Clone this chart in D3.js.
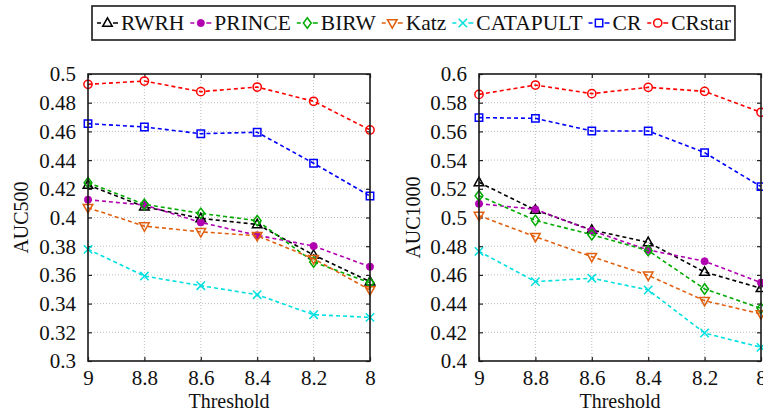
<!DOCTYPE html>
<html>
<head>
<meta charset="utf-8">
<script src="https://cdn.jsdelivr.net/npm/d3@7"></script>
<style>
  html, body { margin: 0; padding: 0; background: #fff; }
  svg { display: block; }
  text { font-family: "Liberation Serif", "DejaVu Serif", serif; fill: #111; }
</style>
</head>
<body>
<svg id="chart" width="763" height="415"></svg>
<script>
// Thresholds on the x axis (decreasing left to right)
const thresholds = [9, 8.8, 8.6, 8.4, 8.2, 8];
const xTickLabels = ["9", "8.8", "8.6", "8.4", "8.2", "8"];

// Method names, in legend order
const methods = ["RWRH", "PRINCE", "BIRW", "Katz", "CATAPULT", "CR", "CRstar"];
const colors = ["#000000", "#b000b0", "#00aa00", "#e0600f", "#00e0e0", "#0000ff", "#ff0000"];
const markers = ["triUp", "dot", "diamond", "triDown", "cross", "square", "circle"];

// AUC500 per method
const auc500RWRH     = [0.4226, 0.4075, 0.3994, 0.3952, 0.3739, 0.3553];
const auc500PRINCE   = [0.4124, 0.4087, 0.3966, 0.3876, 0.3801, 0.3657];
const auc500BIRW     = [0.4243, 0.4092, 0.4029, 0.3978, 0.3690, 0.3545];
const auc500Katz     = [0.4068, 0.3940, 0.3900, 0.3873, 0.3713, 0.3495];
const auc500CATAPULT = [0.3778, 0.3592, 0.3525, 0.3462, 0.3323, 0.3304];
const auc500CR       = [0.4654, 0.4631, 0.4584, 0.4594, 0.4378, 0.4150];
const auc500CRstar   = [0.4928, 0.4951, 0.4877, 0.4909, 0.4810, 0.4610];

// AUC1000 per method
const auc1000RWRH     = [0.5245, 0.5052, 0.4913, 0.4827, 0.4620, 0.4507];
const auc1000PRINCE   = [0.5096, 0.5057, 0.4908, 0.4774, 0.4695, 0.4546];
const auc1000BIRW     = [0.5152, 0.4980, 0.4880, 0.4769, 0.4502, 0.4367];
const auc1000Katz     = [0.5013, 0.4866, 0.4727, 0.4597, 0.4420, 0.4328];
const auc1000CATAPULT = [0.4764, 0.4553, 0.4577, 0.4495, 0.4195, 0.4095];
const auc1000CR       = [0.5696, 0.5691, 0.5603, 0.5603, 0.5452, 0.5215];
const auc1000CRstar   = [0.5858, 0.5923, 0.5863, 0.5907, 0.5879, 0.5733];

// Y axis ticks and labels
const yTicks500 = [0.3, 0.32, 0.34, 0.36, 0.38, 0.4, 0.42, 0.44, 0.46, 0.48, 0.5];
const yLabels500 = ["0.3", "0.32", "0.34", "0.36", "0.38", "0.4", "0.42", "0.44", "0.46", "0.48", "0.5"];
const yTicks1000 = [0.4, 0.42, 0.44, 0.46, 0.48, 0.5, 0.52, 0.54, 0.56, 0.58, 0.6];
const yLabels1000 = ["0.4", "0.42", "0.44", "0.46", "0.48", "0.5", "0.52", "0.54", "0.56", "0.58", "0.6"];

const svg = d3.select("#chart");

// marker path generators centred on (0,0)
function markerPath(type) {
  switch (type) {
    case "triUp":   return "M0,-5.2L4.8,3.3L-4.8,3.3Z";
    case "triDown": return "M0,5.2L4.8,-3.3L-4.8,-3.3Z";
    case "diamond": return "M0,-5.2L3.9,0L0,5.2L-3.9,0Z";
    case "square":  return "M-3.7,-3.7H3.7V3.7H-3.7Z";
    case "cross":   return "M-4.2,-4.2L4.2,4.2M-4.2,4.2L4.2,-4.2";
    case "circle":  return d3.symbol(d3.symbolCircle, Math.PI * 17)();
    case "dot":     return d3.symbol(d3.symbolCircle, Math.PI * 13)();
  }
}

function drawMarker(g, type, color, x, y) {
  const filled = type === "dot";
  g.append("path")
    .attr("d", markerPath(type))
    .attr("transform", `translate(${x},${y})`)
    .attr("fill", filled ? color : "none")
    .attr("stroke", color)
    .attr("stroke-width", filled ? 0.8 : 1.5);
}

function drawPanel(opts) {
  const { left, right, top, bottom, yDomain, yTicks, yLabels, yTitle, yTitleX, series } = opts;
  const x = d3.scaleLinear().domain([9, 8]).range([left, right]);
  const y = d3.scaleLinear().domain(yDomain).range([bottom, top]);
  const g = svg.append("g");

  // dotted grid
  g.append("g").selectAll("line").data(yTicks.slice(1, -1)).join("line")
    .attr("x1", left).attr("x2", right)
    .attr("y1", d => y(d)).attr("y2", d => y(d))
    .attr("stroke", "#bdbdbd").attr("stroke-width", 1).attr("stroke-dasharray", "1,2");
  g.append("g").selectAll("line").data(thresholds.slice(1, -1)).join("line")
    .attr("y1", top).attr("y2", bottom)
    .attr("x1", d => x(d)).attr("x2", d => x(d))
    .attr("stroke", "#bdbdbd").attr("stroke-width", 1).attr("stroke-dasharray", "1,2");

  // axes (ticks pointing inward, labels placed by the axis generator)
  const yAxis = d3.axisLeft(y).tickValues(yTicks).tickFormat((d, i) => yLabels[i])
    .tickSizeInner(-4).tickSizeOuter(0).tickPadding(12);
  const ya = g.append("g").attr("transform", `translate(${left},0)`).call(yAxis);
  const yAxisR = d3.axisRight(y).tickValues(yTicks).tickFormat("").tickSizeInner(-4).tickSizeOuter(0);
  const yr = g.append("g").attr("transform", `translate(${right},0)`).call(yAxisR);
  const xAxis = d3.axisBottom(x).tickValues(thresholds).tickFormat((d, i) => xTickLabels[i])
    .tickSizeInner(-4).tickSizeOuter(0).tickPadding(10);
  const xa = g.append("g").attr("transform", `translate(0,${bottom})`).call(xAxis);
  const xAxisT = d3.axisTop(x).tickValues(thresholds).tickFormat("").tickSizeInner(-4).tickSizeOuter(0);
  const xt = g.append("g").attr("transform", `translate(0,${top})`).call(xAxisT);

  [ya, yr, xa, xt].forEach(a => {
    a.select(".domain").remove();
    a.selectAll(".tick line").attr("stroke", "#222").attr("stroke-width", 1.2);
    a.selectAll("text").attr("font-size", 21).attr("font-family", "Liberation Serif").attr("fill", "#111");
  });
  ya.selectAll("text").attr("dy", "0.33em");
  xa.selectAll("text").attr("dy", "0.68em");

  // series lines and markers
  series.forEach((vals, si) => {
    const line = d3.line().x((d, i) => x(thresholds[i])).y(d => y(d));
    g.append("path").datum(vals)
      .attr("d", line)
      .attr("fill", "none")
      .attr("stroke", colors[si])
      .attr("stroke-width", 1.6)
      .attr("stroke-dasharray", "4,3");
    vals.forEach((v, i) => drawMarker(g, markers[si], colors[si], x(thresholds[i]), y(v)));
  });

  // frame
  g.append("rect")
    .attr("x", left).attr("y", top)
    .attr("width", right - left).attr("height", bottom - top)
    .attr("fill", "none").attr("stroke", "#1a1a1a").attr("stroke-width", 1.6);

  // titles
  g.append("text")
    .attr("x", (left + right) / 2).attr("y", 408)
    .attr("text-anchor", "middle").attr("font-size", 20)
    .text("Threshold");
  g.append("text")
    .attr("transform", `translate(${yTitleX},${(top + bottom) / 2}) rotate(-90)`)
    .attr("text-anchor", "middle").attr("font-size", 20)
    .text(yTitle);
}

drawPanel({
  left: 88, right: 370, top: 74, bottom: 361,
  yDomain: [0.3, 0.5], yTicks: yTicks500, yLabels: yLabels500,
  yTitle: "AUC500", yTitleX: 28,
  series: [auc500RWRH, auc500PRINCE, auc500BIRW, auc500Katz, auc500CATAPULT, auc500CR, auc500CRstar]
});

drawPanel({
  left: 479, right: 761, top: 74, bottom: 361,
  yDomain: [0.4, 0.6], yTicks: yTicks1000, yLabels: yLabels1000,
  yTitle: "AUC1000", yTitleX: 420,
  series: [auc1000RWRH, auc1000PRINCE, auc1000BIRW, auc1000Katz, auc1000CATAPULT, auc1000CR, auc1000CRstar]
});

// legend
const legend = svg.append("g");
const legBox = legend.append("rect")
  .attr("x", 92).attr("y", 6).attr("width", 640).attr("height", 34)
  .attr("fill", "#fff").attr("stroke", "#1a1a1a").attr("stroke-width", 1.6);
let cx = 97;
const ly = 23;
methods.forEach((name, i) => {
  legend.append("line")
    .attr("x1", cx).attr("x2", cx + 21).attr("y1", ly).attr("y2", ly)
    .attr("stroke", colors[i]).attr("stroke-width", 1.6).attr("stroke-dasharray", "4,12,5");
  drawMarker(legend, markers[i], colors[i], cx + 10.5, ly);
  const t = legend.append("text")
    .attr("x", cx + 24).attr("y", 30)
    .attr("font-size", 21.5)
    .text(name);
  cx += 24 + t.node().getComputedTextLength() + 6;
});
legBox.attr("width", cx - 92 - 2);
</script>
</body>
</html>
